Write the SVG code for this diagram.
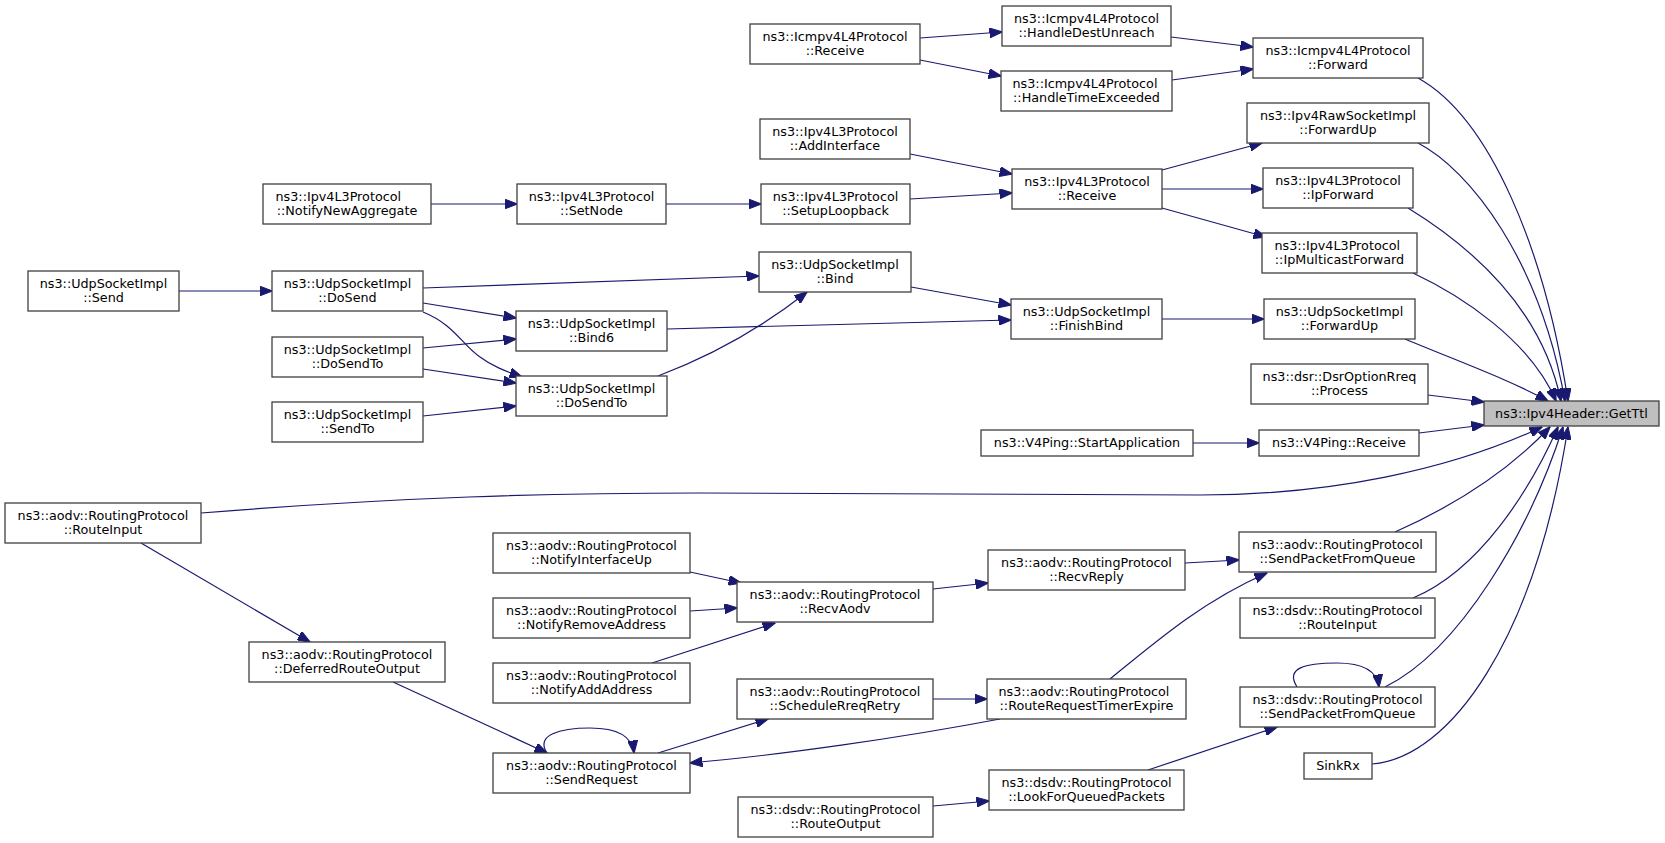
<svg xmlns="http://www.w3.org/2000/svg" width="1665" height="843" viewBox="0 0 1665 843">
<defs>
<marker id="ah" viewBox="0 0 13 10" refX="12.5" refY="5" markerWidth="13" markerHeight="10" markerUnits="userSpaceOnUse" orient="auto">
<path d="M0,0 L13,5 L0,10 z" fill="#191970" stroke="#191970" stroke-width="1"/>
</marker>
</defs>
<style>
.node rect{fill:#ffffff;stroke:#404040;stroke-width:1.3}
.root rect{fill:#bfbfbf}
text{font-family:"DejaVu Sans","Liberation Sans",sans-serif;font-size:12.75px;fill:#000;text-anchor:middle}
text.lj{text-anchor:start}
.edges path{fill:none;stroke:#191970;stroke-width:1.2;marker-end:url(#ah)}
</style>
<rect width="1665" height="843" fill="#ffffff"/>
<g class="edges" id="edges">
<path d="M920,38 L1002,32"/>
<path d="M920,60 L1001,76"/>
<path d="M1171,37 L1253,47"/>
<path d="M1172,80 L1253,69"/>
<path d="M1418,78 C1490,118 1545,250 1568,401"/>
<path d="M910,154 L1012,174"/>
<path d="M910,199 L1012,193"/>
<path d="M431,204 L517,204"/>
<path d="M666,204 L761,204"/>
<path d="M1162,170 L1262,143"/>
<path d="M1162,189 L1263,189"/>
<path d="M1162,208 L1266,237"/>
<path d="M1418,143 C1470,170 1540,260 1565,401"/>
<path d="M1408,208 C1460,240 1540,300 1561,401"/>
<path d="M1413,273 C1460,295 1530,340 1556,401"/>
<path d="M179,291 L272,291"/>
<path d="M423,288 L759,276"/>
<path d="M423,303 L516,318"/>
<path d="M423,312 C455,325 462,345 480,357 C492,366 505,371 522,377"/>
<path d="M423,348 L516,339"/>
<path d="M423,369 L516,383"/>
<path d="M423,416 L516,406"/>
<path d="M658,376 Q740,345 807,292"/>
<path d="M911,287 L1011,305"/>
<path d="M667,329 L1011,320"/>
<path d="M1162,319 L1264,319"/>
<path d="M1405,339 C1460,362 1510,380 1548,401"/>
<path d="M1428,395 L1484,402"/>
<path d="M1193,443 L1259,443"/>
<path d="M1419,433 L1484,425"/>
<path d="M201,513 C400,497 550,493 700,493 L1200,495 C1330,495 1450,470 1542,427"/>
<path d="M141,543 L310,642"/>
<path d="M393,682 L547,753"/>
<path d="M547,753 C535,735 560,728 590,728 C615,728 632,735 634,753"/>
<path d="M658,753 L768,719"/>
<path d="M933,699 L987,699"/>
<path d="M1000,719 C900,738 780,755 690,763"/>
<path d="M1110,679 C1160,638 1205,600 1267,573"/>
<path d="M690,572 L741,583"/>
<path d="M690,611 L737,608"/>
<path d="M652,663 L775,623"/>
<path d="M933,589 L988,583"/>
<path d="M1185,563 L1239,560"/>
<path d="M1395,532 C1440,512 1500,480 1550,427"/>
<path d="M1413,598 C1480,570 1530,490 1558,427"/>
<path d="M1297,687 C1285,668 1305,663 1337,663 C1362,663 1377,670 1379,687"/>
<path d="M1385,687 C1460,650 1530,530 1563,427"/>
<path d="M933,806 L989,801"/>
<path d="M1148,770 L1277,727"/>
<path d="M1372,764 C1450,758 1535,640 1568,427"/>
</g>
<g id="n_icmp_recv" class="node"><rect x="750" y="24" width="170" height="40"/><text x="835" y="40.5">ns3::Icmpv4L4Protocol</text><text x="835" y="55">::Receive</text></g>
<g id="n_hdu" class="node"><rect x="1002" y="6" width="169" height="40"/><text x="1086.5" y="22.5">ns3::Icmpv4L4Protocol</text><text x="1086.5" y="37">::HandleDestUnreach</text></g>
<g id="n_hte" class="node"><rect x="1001" y="71" width="171" height="40"/><text class="lj" x="1012.5" y="87.5">ns3::Icmpv4L4Protocol</text><text x="1086.5" y="102">::HandleTimeExceeded</text></g>
<g id="n_fwd" class="node"><rect x="1253" y="38" width="170" height="40"/><text x="1338" y="54.5">ns3::Icmpv4L4Protocol</text><text x="1338" y="69">::Forward</text></g>
<g id="n_addif" class="node"><rect x="760" y="119" width="150" height="40"/><text x="835" y="135.5">ns3::Ipv4L3Protocol</text><text x="835" y="150">::AddInterface</text></g>
<g id="n_l3recv" class="node"><rect x="1012" y="169" width="150" height="40"/><text x="1087" y="185.5">ns3::Ipv4L3Protocol</text><text x="1087" y="200">::Receive</text></g>
<g id="n_rawfwd" class="node"><rect x="1247" y="103" width="182" height="40"/><text x="1338" y="119.5">ns3::Ipv4RawSocketImpl</text><text x="1338" y="134">::ForwardUp</text></g>
<g id="n_ipfwd" class="node"><rect x="1263" y="168" width="150" height="40"/><text x="1338" y="184.5">ns3::Ipv4L3Protocol</text><text x="1338" y="199">::IpForward</text></g>
<g id="n_ipmfwd" class="node"><rect x="1262" y="233" width="155" height="40"/><text class="lj" x="1274.5" y="249.5">ns3::Ipv4L3Protocol</text><text x="1339.5" y="264">::IpMulticastForward</text></g>
<g id="n_nna" class="node"><rect x="263" y="184" width="168" height="40"/><text class="lj" x="275.5" y="200.5">ns3::Ipv4L3Protocol</text><text x="347" y="215">::NotifyNewAggregate</text></g>
<g id="n_setnode" class="node"><rect x="517" y="184" width="149" height="40"/><text x="591.5" y="200.5">ns3::Ipv4L3Protocol</text><text x="591.5" y="215">::SetNode</text></g>
<g id="n_setuplb" class="node"><rect x="761" y="184" width="149" height="40"/><text x="835.5" y="200.5">ns3::Ipv4L3Protocol</text><text x="835.5" y="215">::SetupLoopback</text></g>
<g id="n_send" class="node"><rect x="28" y="271" width="151" height="40"/><text x="103.5" y="287.5">ns3::UdpSocketImpl</text><text x="103.5" y="302">::Send</text></g>
<g id="n_dosend" class="node"><rect x="272" y="271" width="151" height="40"/><text x="347.5" y="287.5">ns3::UdpSocketImpl</text><text x="347.5" y="302">::DoSend</text></g>
<g id="n_dosendto1" class="node"><rect x="272" y="337" width="151" height="40"/><text x="347.5" y="353.5">ns3::UdpSocketImpl</text><text x="347.5" y="368">::DoSendTo</text></g>
<g id="n_sendto" class="node"><rect x="272" y="402" width="151" height="40"/><text x="347.5" y="418.5">ns3::UdpSocketImpl</text><text x="347.5" y="433">::SendTo</text></g>
<g id="n_bind" class="node"><rect x="759" y="252" width="152" height="40"/><text x="835" y="268.5">ns3::UdpSocketImpl</text><text x="835" y="283">::Bind</text></g>
<g id="n_bind6" class="node"><rect x="516" y="311" width="151" height="40"/><text x="591.5" y="327.5">ns3::UdpSocketImpl</text><text x="591.5" y="342">::Bind6</text></g>
<g id="n_dosendto2" class="node"><rect x="516" y="376" width="151" height="40"/><text x="591.5" y="392.5">ns3::UdpSocketImpl</text><text x="591.5" y="407">::DoSendTo</text></g>
<g id="n_finishbind" class="node"><rect x="1011" y="299" width="151" height="40"/><text x="1086.5" y="315.5">ns3::UdpSocketImpl</text><text x="1086.5" y="330">::FinishBind</text></g>
<g id="n_udpfwd" class="node"><rect x="1264" y="299" width="151" height="40"/><text x="1339.5" y="315.5">ns3::UdpSocketImpl</text><text x="1339.5" y="330">::ForwardUp</text></g>
<g id="n_dsr" class="node"><rect x="1251" y="364" width="177" height="40"/><text x="1339.5" y="380.5">ns3::dsr::DsrOptionRreq</text><text x="1339.5" y="395">::Process</text></g>
<g id="n_getttl" class="node root"><rect x="1484" y="401" width="175" height="25"/><text x="1571.5" y="417.5">ns3::Ipv4Header::GetTtl</text></g>
<g id="n_v4recv" class="node"><rect x="1259" y="430" width="160" height="26"/><text x="1339" y="447">ns3::V4Ping::Receive</text></g>
<g id="n_v4start" class="node"><rect x="981" y="430" width="212" height="26"/><text x="1087" y="447">ns3::V4Ping::StartApplication</text></g>
<g id="n_aodv_ri" class="node"><rect x="5" y="503" width="196" height="40"/><text x="103" y="519.5">ns3::aodv::RoutingProtocol</text><text x="103" y="534">::RouteInput</text></g>
<g id="n_dro" class="node"><rect x="249" y="642" width="196" height="40"/><text x="347" y="658.5">ns3::aodv::RoutingProtocol</text><text x="347" y="673">::DeferredRouteOutput</text></g>
<g id="n_niu" class="node"><rect x="493" y="533" width="197" height="40"/><text x="591.5" y="549.5">ns3::aodv::RoutingProtocol</text><text x="591.5" y="564">::NotifyInterfaceUp</text></g>
<g id="n_nra" class="node"><rect x="493" y="598" width="197" height="40"/><text x="591.5" y="614.5">ns3::aodv::RoutingProtocol</text><text x="591.5" y="629">::NotifyRemoveAddress</text></g>
<g id="n_naa" class="node"><rect x="493" y="663" width="197" height="40"/><text x="591.5" y="679.5">ns3::aodv::RoutingProtocol</text><text x="591.5" y="694">::NotifyAddAddress</text></g>
<g id="n_sreq" class="node"><rect x="493" y="753" width="197" height="40"/><text x="591.5" y="769.5">ns3::aodv::RoutingProtocol</text><text x="591.5" y="784">::SendRequest</text></g>
<g id="n_recvaodv" class="node"><rect x="737" y="582" width="196" height="40"/><text x="835" y="598.5">ns3::aodv::RoutingProtocol</text><text x="835" y="613">::RecvAodv</text></g>
<g id="n_recvreply" class="node"><rect x="988" y="550" width="197" height="40"/><text x="1086.5" y="566.5">ns3::aodv::RoutingProtocol</text><text x="1086.5" y="581">::RecvReply</text></g>
<g id="n_srr" class="node"><rect x="737" y="679" width="196" height="40"/><text x="835" y="695.5">ns3::aodv::RoutingProtocol</text><text x="835" y="710">::ScheduleRreqRetry</text></g>
<g id="n_rrte" class="node"><rect x="987" y="679" width="199" height="40"/><text class="lj" x="998.5" y="695.5">ns3::aodv::RoutingProtocol</text><text x="1086.5" y="710">::RouteRequestTimerExpire</text></g>
<g id="n_dsdv_ro" class="node"><rect x="738" y="797" width="195" height="40"/><text x="835.5" y="813.5">ns3::dsdv::RoutingProtocol</text><text x="835.5" y="828">::RouteOutput</text></g>
<g id="n_lfqp" class="node"><rect x="989" y="770" width="195" height="40"/><text x="1086.5" y="786.5">ns3::dsdv::RoutingProtocol</text><text x="1086.5" y="801">::LookForQueuedPackets</text></g>
<g id="n_aodv_spfq" class="node"><rect x="1239" y="532" width="197" height="40"/><text x="1337.5" y="548.5">ns3::aodv::RoutingProtocol</text><text x="1337.5" y="563">::SendPacketFromQueue</text></g>
<g id="n_dsdv_ri" class="node"><rect x="1240" y="598" width="195" height="40"/><text x="1337.5" y="614.5">ns3::dsdv::RoutingProtocol</text><text x="1337.5" y="629">::RouteInput</text></g>
<g id="n_dsdv_spfq" class="node"><rect x="1240" y="687" width="195" height="40"/><text x="1337.5" y="703.5">ns3::dsdv::RoutingProtocol</text><text x="1337.5" y="718">::SendPacketFromQueue</text></g>
<g id="n_sinkrx" class="node"><rect x="1304" y="753" width="68" height="26"/><text x="1338" y="770">SinkRx</text></g>
</svg>
